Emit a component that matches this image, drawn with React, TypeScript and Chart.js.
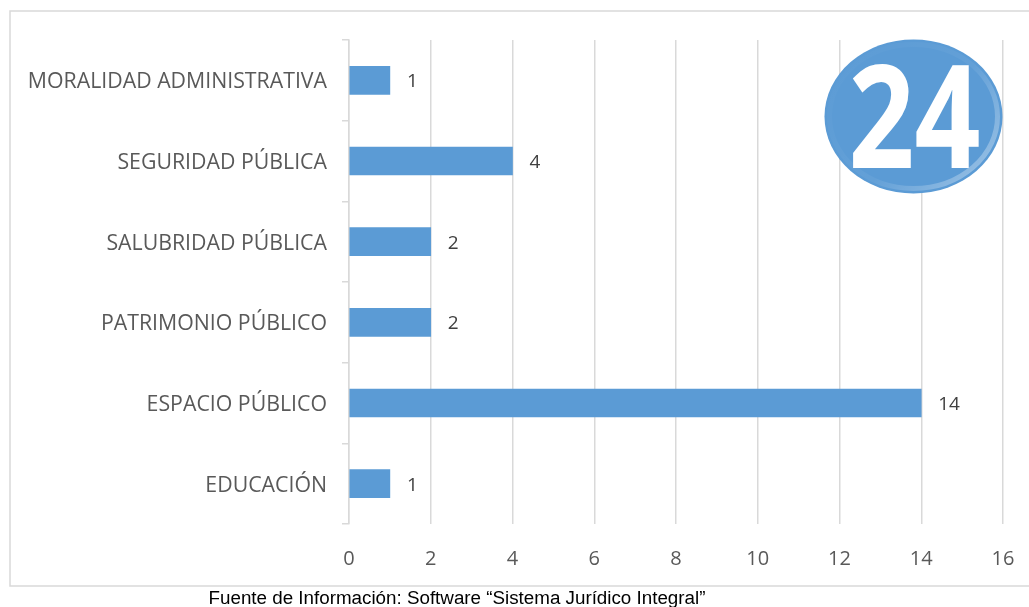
import React, { useEffect, useRef } from "react";
import { Chart, registerables } from "chart.js";

Chart.register(...registerables);

const categories = [
  "MORALIDAD ADMINISTRATIVA",
  "SEGURIDAD PÚBLICA",
  "SALUBRIDAD PÚBLICA",
  "PATRIMONIO PÚBLICO",
  "ESPACIO PÚBLICO",
  "EDUCACIÓN",
];
const values = [1, 4, 2, 2, 14, 1];
const xMin = 0;
const xMax = 16;
const xStep = 2;
const badgeText = "24";
const sourceText = "Fuente de Información: Software “Sistema Jurídico Integral”";

const BAR_COLOR = "#5b9bd5";
const GRID_COLOR = "#d9d9d9";
const LABEL_COLOR = "#595959";
const FONT = "'Open Sans', 'DejaVu Sans', sans-serif";

const framePlugin = {
  id: "frame",
  beforeDraw(chart: any) {
    const ctx = chart.ctx;
    ctx.save();
    ctx.fillStyle = "#ffffff";
    ctx.fillRect(0, 0, chart.width, chart.height);
    ctx.strokeStyle = GRID_COLOR;
    ctx.lineWidth = 1.5;
    ctx.strokeRect(10, 11, chart.width + 20, 575);
    ctx.restore();
  },
};

const valueLabelPlugin = {
  id: "valueLabels",
  afterDatasetsDraw(chart: any) {
    const ctx = chart.ctx;
    const meta = chart.getDatasetMeta(0);
    ctx.save();
    ctx.font = `19px ${FONT}`;
    ctx.fillStyle = "#404040";
    ctx.textAlign = "left";
    ctx.textBaseline = "middle";
    meta.data.forEach((bar: any, i: number) => {
      ctx.fillText(String(values[i]), bar.x + 17, bar.y + 1.5);
    });
    ctx.restore();
  },
};

const badgePlugin = {
  id: "badge",
  afterDatasetsDraw(chart: any) {
    const ctx = chart.ctx;
    const cx = 913.5;
    const cy = 116.5;
    const rx = 89;
    const ry = 77;
    ctx.save();
    ctx.beginPath();
    ctx.ellipse(cx, cy, rx, ry, 0, 0, Math.PI * 2);
    ctx.fillStyle = BAR_COLOR;
    ctx.fill();
    ctx.clip();
    const g = ctx.createLinearGradient(cx - rx, cy - ry, cx + rx, cy + ry);
    g.addColorStop(0, "rgba(255,255,255,0.0)");
    g.addColorStop(0.55, "rgba(255,255,255,0.05)");
    g.addColorStop(1, "rgba(255,255,255,0.45)");
    ctx.lineWidth = 5;
    ctx.strokeStyle = g;
    ctx.beginPath();
    ctx.ellipse(cx, cy, rx - 5, ry - 5, 0, 0, Math.PI * 2);
    ctx.stroke();
    ctx.restore();

    ctx.save();
    ctx.font = `bold 144px ${FONT}`;
    ctx.fillStyle = "#ffffff";
    ctx.textAlign = "center";
    ctx.textBaseline = "alphabetic";
    const w = ctx.measureText(badgeText).width;
    const targetW = 132;
    ctx.translate(914.5, 168);
    ctx.scale(targetW / w, 1);
    ctx.fillText(badgeText, 0, 0);
    ctx.restore();
  },
};

export default function App() {
  const canvasRef = useRef<HTMLCanvasElement | null>(null);

  useEffect(() => {
    const canvas = canvasRef.current;
    if (!canvas) return;
    const chart = new Chart(canvas, {
      type: "bar",
      data: {
        labels: categories,
        datasets: [
          {
            data: values,
            backgroundColor: BAR_COLOR,
            borderWidth: 0,
            barThickness: 28,
          },
        ],
      },
      options: {
        indexAxis: "y",
        responsive: false,
        animation: false,
        devicePixelRatio: 1,
        layout: { padding: { top: 40, right: 26, left: 0, bottom: 0 } },
        plugins: {
          legend: { display: false },
          tooltip: { enabled: false },
          title: { display: false },
        },
        scales: {
          x: {
            type: "linear",
            min: xMin,
            max: xMax,
            ticks: {
              stepSize: xStep,
              color: LABEL_COLOR,
              font: { family: FONT, size: 20 },
              padding: 23,
            },
            grid: {
              color: GRID_COLOR,
              lineWidth: 1.5,
              drawTicks: false,
            },
            border: { display: false },
            afterFit(scale: any) {
              scale.height = 83;
              scale.paddingLeft = 0;
              scale.paddingRight = 0;
            },
          },
          y: {
            type: "category",
            ticks: {
              color: LABEL_COLOR,
              font: { family: FONT, size: 21.3 },
              padding: 15,
              labelOffset: 2,
            },
            grid: {
              display: true,
              drawOnChartArea: false,
              drawTicks: true,
              tickLength: 7,
              color: GRID_COLOR,
              lineWidth: 1.5,
              offset: true,
            },
            border: { display: true, color: GRID_COLOR, width: 1.5 },
            afterFit(scale: any) {
              scale.width = 349;
              scale.paddingTop = 0;
              scale.paddingBottom = 0;
            },
          },
        },
      },
      plugins: [framePlugin, valueLabelPlugin, badgePlugin],
    });
    return () => chart.destroy();
  }, []);

  return (
    <div style={{ position: "absolute", left: 0, top: 0, width: 1029, height: 607 }}>
      <canvas ref={canvasRef} width={1029} height={607} style={{ display: "block" }} />
      <div
        style={{
          position: "absolute",
          left: 0,
          width: 914,
          top: 588,
          textAlign: "center",
          fontFamily: "'Liberation Sans', Arial, sans-serif",
          fontSize: 18.8,
          lineHeight: "20px",
          color: "#000000",
          whiteSpace: "nowrap",
        }}
      >
        {sourceText}
      </div>
    </div>
  );
}
